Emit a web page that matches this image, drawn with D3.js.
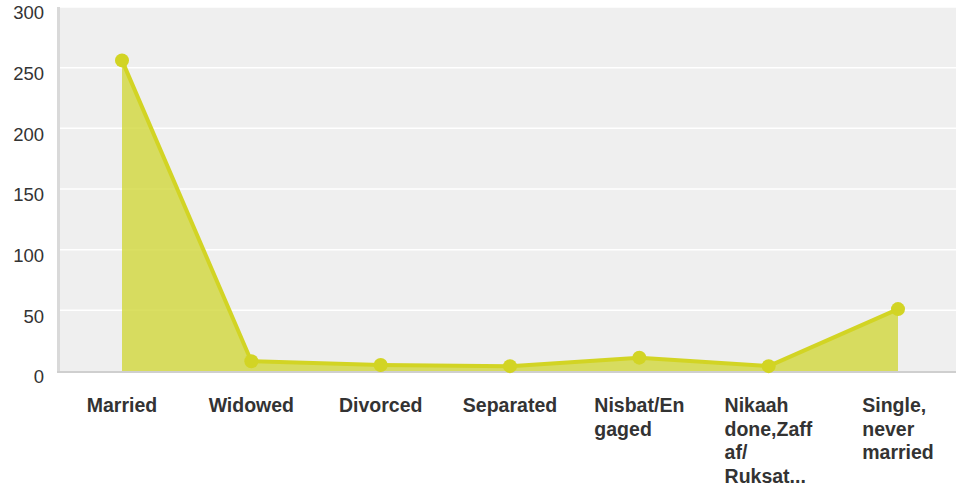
<!DOCTYPE html>
<html><head><meta charset="utf-8">
<script src="https://cdn.jsdelivr.net/npm/d3@7"></script>
<style>body{margin:0;background:#fff;}svg{display:block;font-family:"Liberation Sans",Arial,sans-serif;}</style>
</head><body>
<svg id="chart" width="956" height="489"></svg>
<script>
const categories = ["Married","Widowed","Divorced","Separated","Nisbat/Engaged","Nikaah done,Zaffaf/Ruksat...","Single, never married"];
const labelLines = [["Married"],["Widowed"],["Divorced"],["Separated"],["Nisbat/En","gaged"],["Nikaah","done,Zaff","af/","Ruksat..."],["Single,","never","married"]];
const values = [256, 8, 5, 4, 11, 4, 51];
const yTicks = [0, 50, 100, 150, 200, 250, 300];

const svg = d3.select("#chart");
const plotL = 60, plotR = 956, plotT = 7, plotB = 371;
const x = d3.scalePoint().domain(categories).range([122, 898]);
const y = d3.scaleLinear().domain([0, 300]).range([plotB, plotT]);

svg.append("rect").attr("x", plotL).attr("y", plotT).attr("width", plotR - plotL).attr("height", plotB - plotT).attr("fill", "#efefef");
svg.append("g").selectAll("line").data(yTicks.filter(d => d > 0)).join("line")
  .attr("x1", plotL).attr("x2", plotR).attr("y1", d => y(d)).attr("y2", d => y(d))
  .attr("stroke", "#fff").attr("stroke-width", 1.5);
svg.append("rect").attr("x", 57).attr("y", plotT).attr("width", 3).attr("height", plotB - plotT + 2).attr("fill", "#d9d9d9");
svg.append("rect").attr("x", 57).attr("y", plotB).attr("width", plotR - 57).attr("height", 2).attr("fill", "#cfcfcf");

const yAxis = d3.axisLeft(y).tickValues(yTicks).tickSize(0).tickPadding(0);
const gy = svg.append("g").attr("transform", "translate(44,0)").call(yAxis);
gy.select(".domain").remove();
gy.selectAll("text").attr("font-size", 18.5).attr("fill", "#333").attr("dy", "0.35em").attr("y", 5.5)
  .attr("font-family", "Liberation Sans, Arial, sans-serif");

const data = categories.map((c, i) => ({c, v: values[i]}));
const area = d3.area().x(d => x(d.c)).y0(y(0)).y1(d => y(d.v));
const line = d3.line().x(d => x(d.c)).y(d => y(d.v));
svg.append("path").datum(data).attr("d", area).attr("fill", "#d2d840").attr("fill-opacity", 0.82);
svg.append("path").datum(data).attr("d", line).attr("fill", "none").attr("stroke", "#d2d424").attr("stroke-width", 4).attr("stroke-linejoin", "round");
svg.append("g").selectAll("circle").data(data).join("circle")
  .attr("cx", d => x(d.c)).attr("cy", d => y(d.v)).attr("r", 7).attr("fill", "#d2d424");

const lg = svg.append("g");
categories.forEach((c, i) => {
  const t = lg.append("text").attr("font-size", 19.5).attr("font-weight", "bold").attr("fill", "#333");
  labelLines[i].forEach((s, j) => t.append("tspan").attr("x", 0).attr("y", 412 + j * 23.5).text(s));
  const w = t.node().getBBox().width;
  t.attr("transform", `translate(${x(c) - w / 2},0)`);
});
</script>
</body></html>
